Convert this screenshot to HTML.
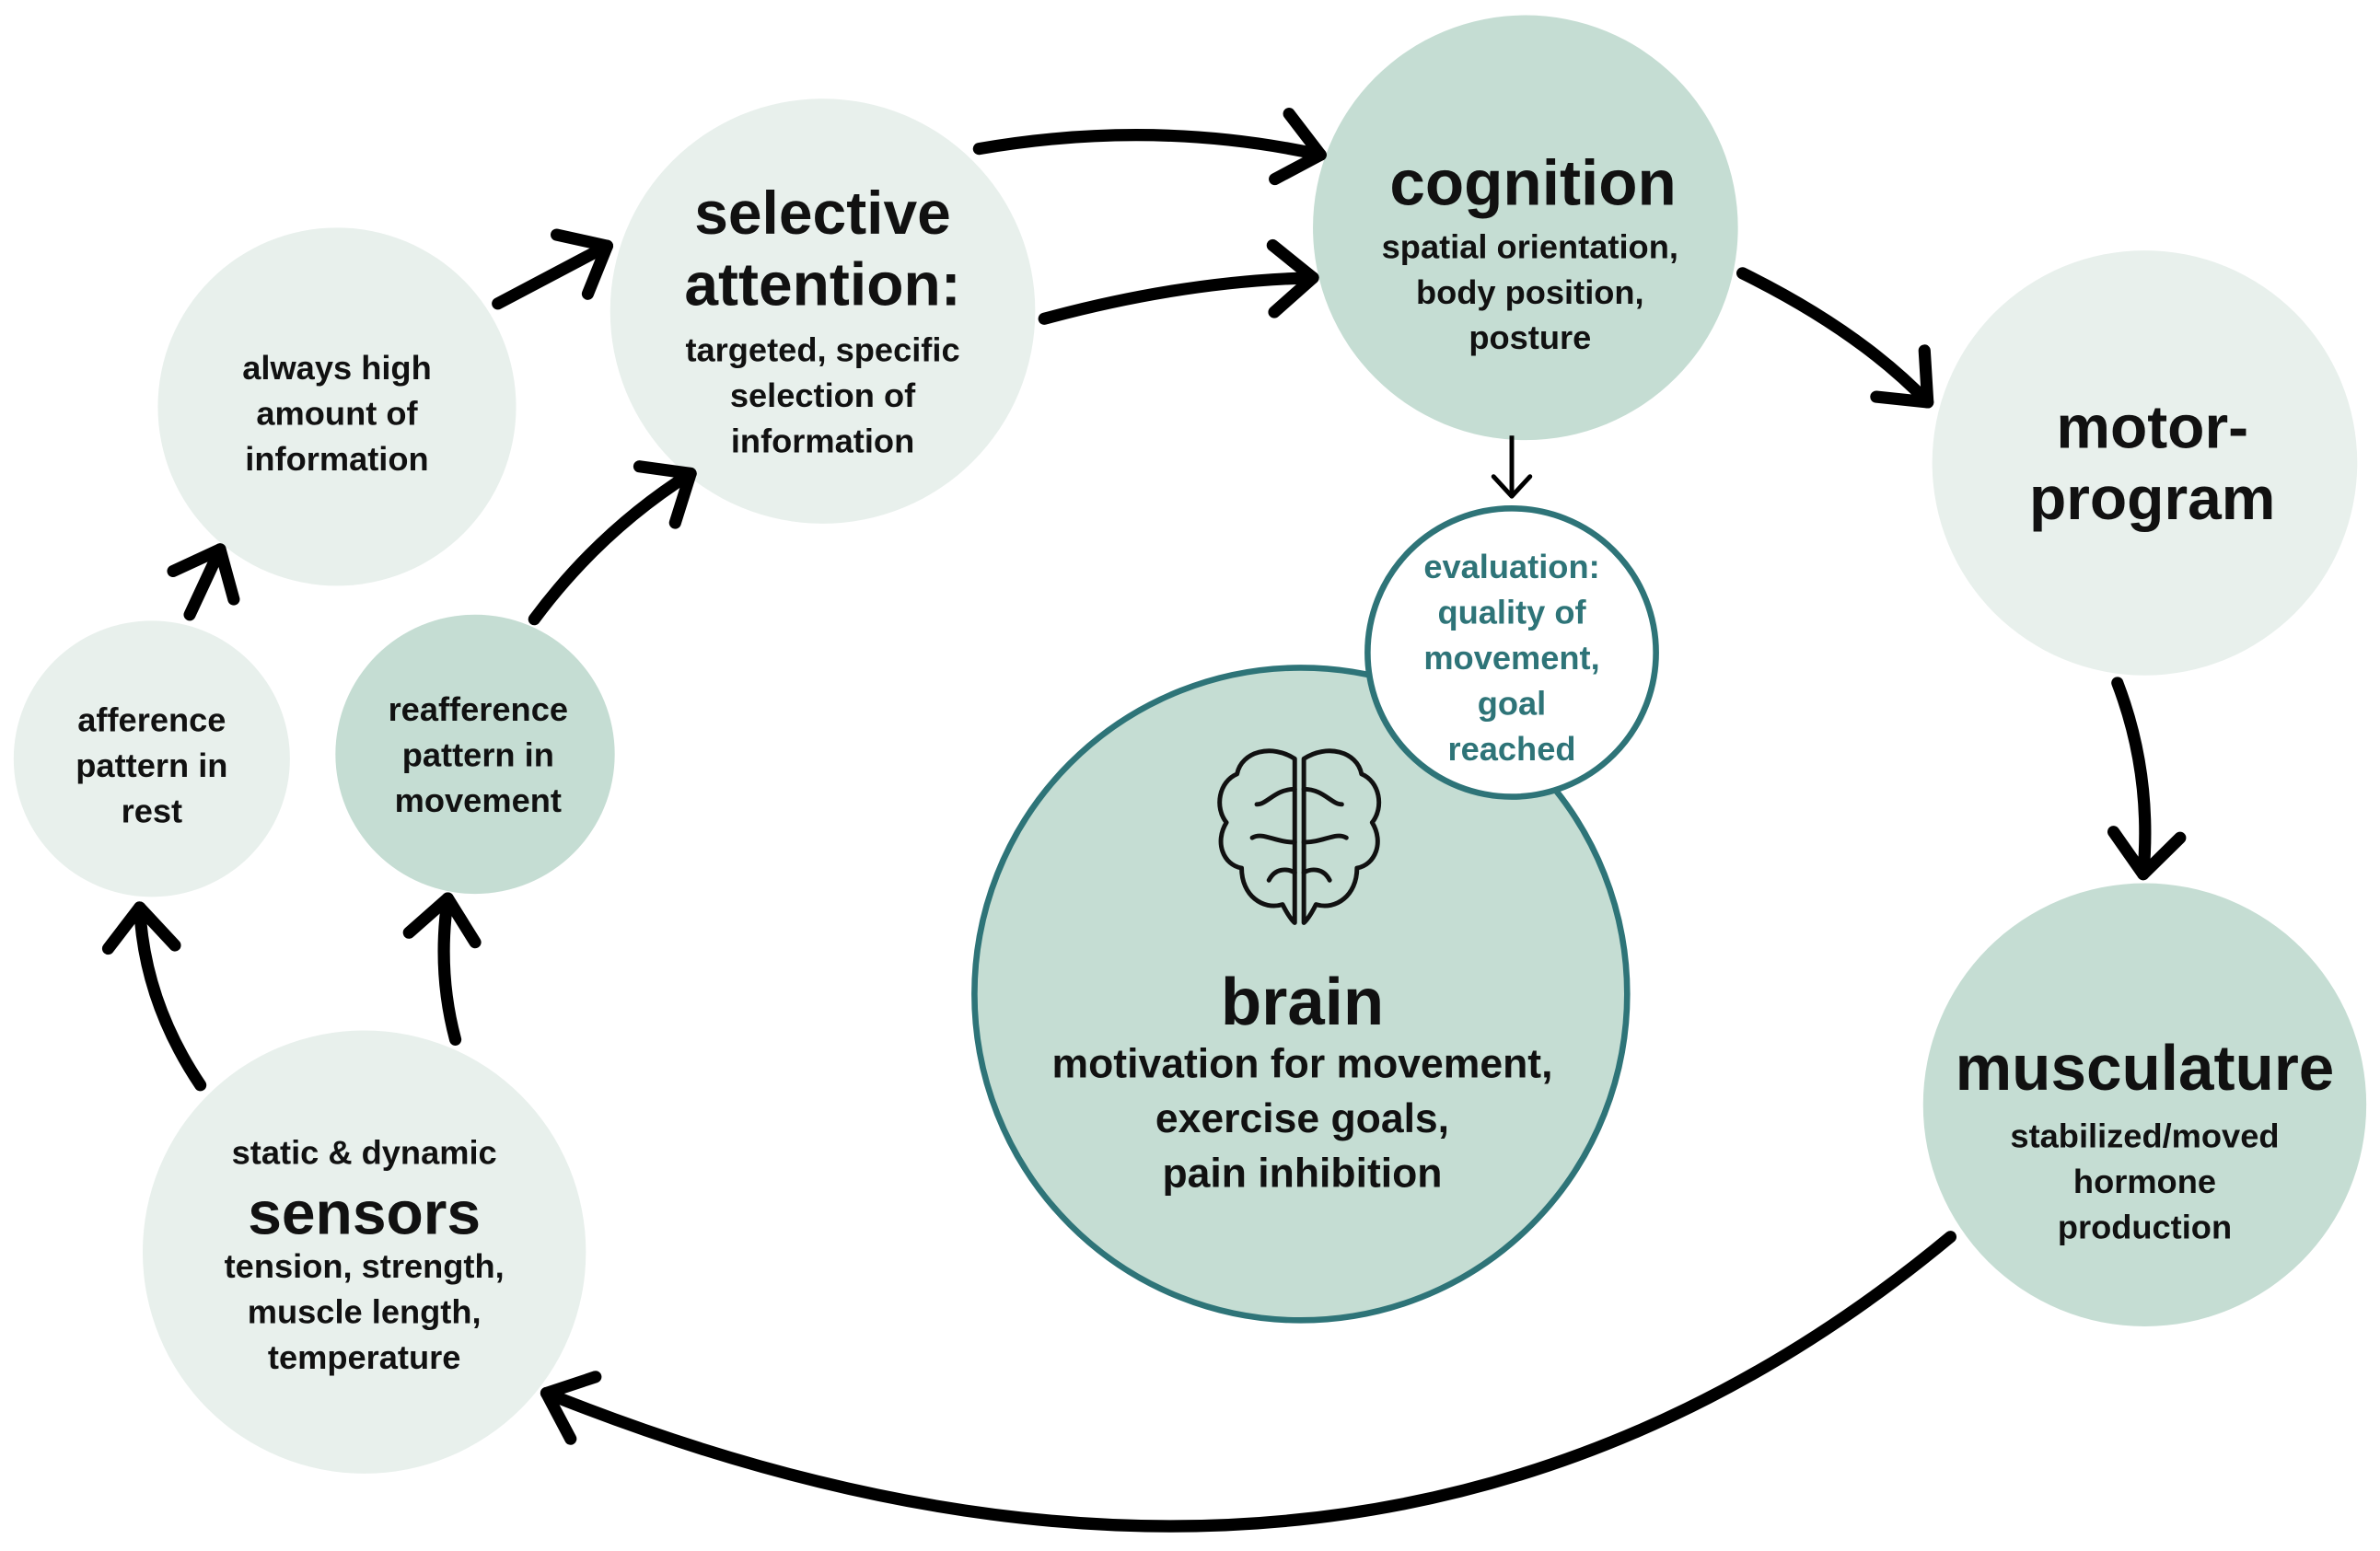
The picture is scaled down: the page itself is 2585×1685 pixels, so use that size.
<!DOCTYPE html>
<html><head><meta charset="utf-8"><style>
html,body{margin:0;padding:0;background:#fff;}
svg{display:block;}
text{font-family:"Liberation Sans",sans-serif;font-weight:bold;text-anchor:middle;fill:#111;}
text.teal{fill:#2e7478;}
</style></head><body>
<svg width="2585" height="1685" viewBox="0 0 1568 1022" xmlns="http://www.w3.org/2000/svg">
<defs>
<marker id="ah" markerUnits="userSpaceOnUse" viewBox="-40 -30 50 60" markerWidth="50" markerHeight="60" refX="0" refY="0" orient="auto">
<path d="M-26,-22 L0,0 L-26,22" fill="none" stroke="#000" stroke-width="8" stroke-linecap="round" stroke-linejoin="round"/>
</marker>
<marker id="ahs" markerUnits="userSpaceOnUse" viewBox="-20 -15 25 30" markerWidth="25" markerHeight="30" refX="0" refY="0" orient="auto">
<path d="M-13,-12 L0,0 L-13,12" fill="none" stroke="#000" stroke-width="3" stroke-linecap="round" stroke-linejoin="round"/>
</marker>
</defs>
<rect width="1568" height="1022" fill="#fff"/>
<circle cx="222" cy="268" r="118" fill="#e8f0ec"/>
<circle cx="542" cy="205" r="140" fill="#e8f0ec"/>
<circle cx="1005" cy="150" r="140" fill="#c5ddd3"/>
<circle cx="1413" cy="305" r="140" fill="#e8f0ec"/>
<circle cx="1413" cy="728" r="146" fill="#c5ddd3"/>
<circle cx="100" cy="500" r="91" fill="#e8f0ec"/>
<circle cx="313" cy="497" r="92" fill="#c5ddd3"/>
<circle cx="240" cy="825" r="146" fill="#e8f0ec"/>
<circle cx="857" cy="655" r="215" fill="#c5ddd3" stroke="#2e7478" stroke-width="4"/>
<circle cx="996" cy="430" r="95" fill="#fff" stroke="#2e7478" stroke-width="4"/>

<g fill="none" stroke="#000" stroke-width="8" stroke-linecap="round" marker-end="url(#ah)">
<path d="M328,200 L400,162"/>
<path d="M352,408 Q395,350 455,312"/>
<path d="M125,405 L145,362"/>
<path d="M132,715 Q95,660 92,598"/>
<path d="M300,685 Q288,640 295,592"/>
<path d="M645,98 Q760,78 870,102"/>
<path d="M688,210 Q780,185 865,183"/>
<path d="M1148,180 Q1225,218 1270,265"/>
<path d="M1395,450 Q1418,510 1412,576"/>
<path d="M1285,815 Q900,1135 360,918"/>
</g>
<path d="M996,287 L996,327" stroke="#000" stroke-width="3" fill="none" marker-end="url(#ahs)"/>

<g font-size="22">
<text x="222" y="250">always high</text>
<text x="222" y="280">amount of</text>
<text x="222" y="310">information</text>
<text x="100" y="482">afference</text>
<text x="100" y="512">pattern in</text>
<text x="100" y="542">rest</text>
<text x="315" y="475">reafference</text>
<text x="315" y="505">pattern in</text>
<text x="315" y="535">movement</text>
<text x="542" y="238">targeted, specific</text>
<text x="542" y="268">selection of</text>
<text x="542" y="298">information</text>
<text x="1008" y="170">spatial orientation,</text>
<text x="1008" y="200">body position,</text>
<text x="1008" y="230">posture</text>
<text x="1413" y="756">stabilized/moved</text>
<text x="1413" y="786">hormone</text>
<text x="1413" y="816">production</text>
<text x="240" y="767">static &amp; dynamic</text>
<text x="240" y="842">tension, strength,</text>
<text x="240" y="872">muscle length,</text>
<text x="240" y="902">temperature</text>
<text class="teal" x="996" y="381">evaluation:</text>
<text class="teal" x="996" y="411">quality of</text>
<text class="teal" x="996" y="441">movement,</text>
<text class="teal" x="996" y="471">goal</text>
<text class="teal" x="996" y="501">reached</text>
</g>
<g font-size="40">
<text x="542" y="154">selective</text>
<text x="542" y="201">attention:</text>
<text x="1010" y="135" font-size="42">cognition</text>
<text x="1418" y="295">motor-</text>
<text x="1418" y="342">program</text>
<text x="1413" y="718" font-size="42">musculature</text>
<text x="240" y="813">sensors</text>
<text x="858" y="675" font-size="44">brain</text>
</g>
<g font-size="27">
<text x="858" y="710">motivation for movement,</text>
<text x="858" y="746">exercise goals,</text>
<text x="858" y="782">pain inhibition</text>
</g>
<g fill="none" stroke="#111" stroke-width="3" stroke-linecap="round" stroke-linejoin="round">
<path d="M853,500 C838,490 818,495 815,510 C803,515 800,532 808,542 C800,555 806,570 818,572 C818,590 832,600 845,596 C850,606 853,608 853,608 Z"/>
<path d="M859,500 C874,490 894,495 897,510 C909,515 912,532 904,542 C912,555 906,570 894,572 C894,590 880,600 867,596 C862,606 859,608 859,608 Z"/>
<path d="M853,520 C840,520 835,530 828,530 M853,555 C840,555 832,548 825,552 M836,580 C840,572 848,572 853,575"/>
<path d="M859,520 C872,520 877,530 884,530 M859,555 C872,555 880,548 887,552 M876,580 C872,572 864,572 859,575"/>
</g>
</svg>
</body></html>
